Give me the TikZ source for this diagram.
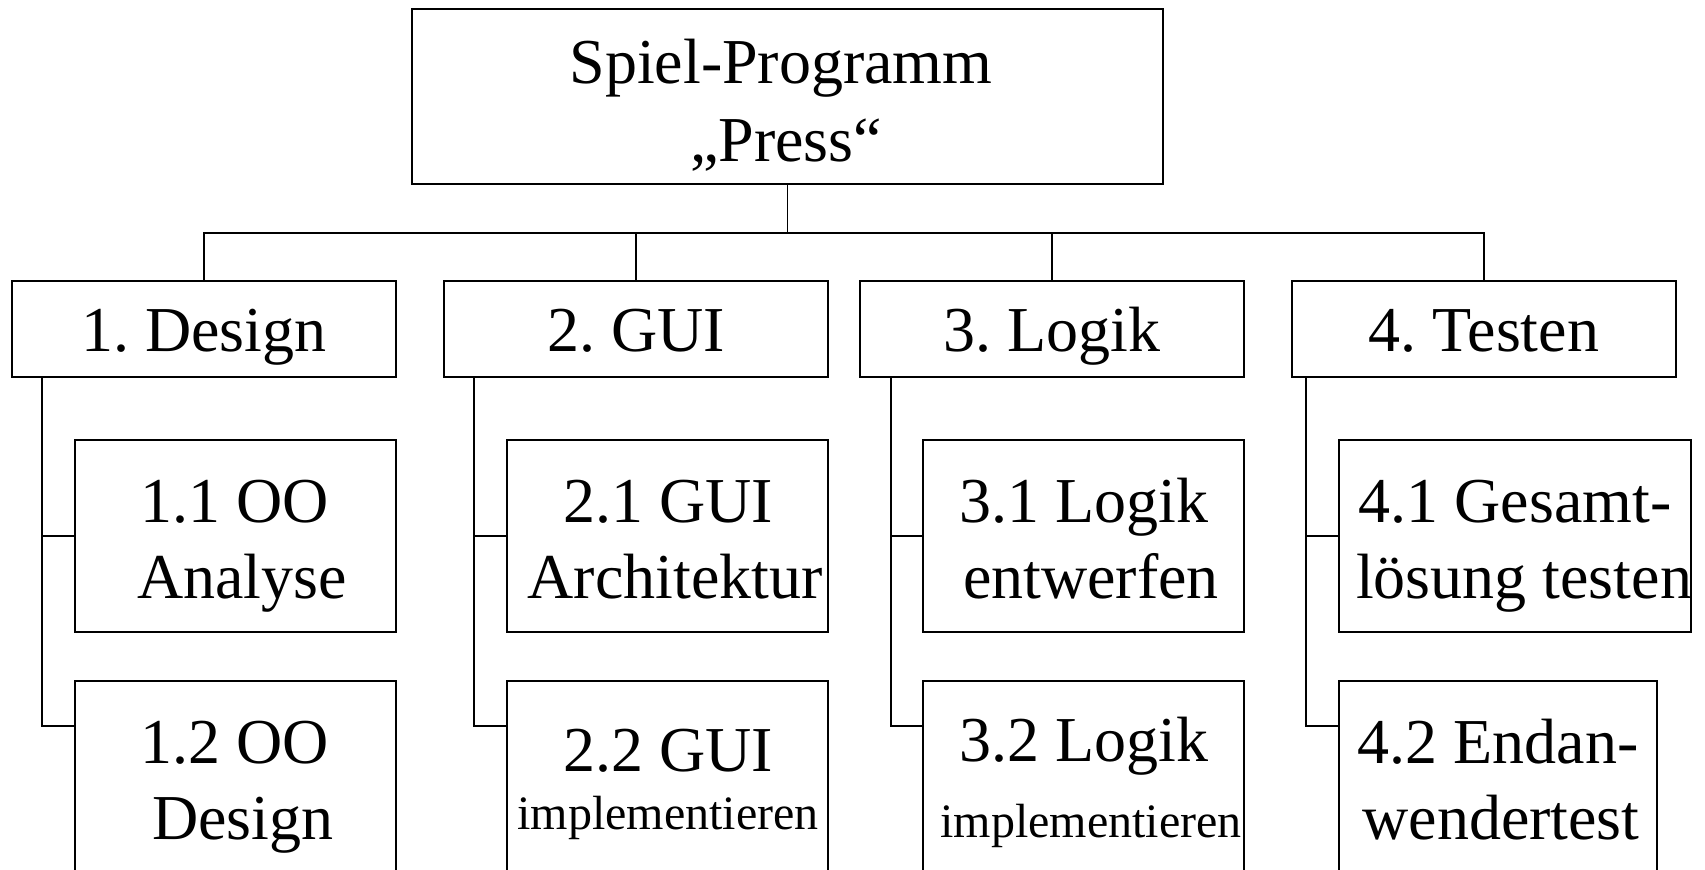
\documentclass[tikz,border=0pt]{standalone}
\usepackage{fontspec}
\setmainfont{Liberation Serif}
\frenchspacing
\tikzset{
  box/.style={draw, line width=1pt, inner sep=0pt, fill=white},
  conn/.style={draw, line width=0.8pt},
  txt/.style={inner sep=0pt, anchor=base, font=\fontsize{32}{38}\selectfont},
  small/.style={inner sep=0pt, anchor=base, font=\fontsize{24}{28}\selectfont},
}
% place a box by its centre (cx,cy) and size (w,h), all in pixel units (1px = 0.5pt)
\newcommand\wbsbox[5]{\node[box, minimum width=#4*0.5pt, minimum height=#5*0.5pt] (#1) at (#2,#3) {};}
\begin{document}
\begin{tikzpicture}[x=0.5pt, y=-0.5pt]
\useasboundingbox (0,0) rectangle (1705,870);
\clip (0,0) rectangle (1705,870);

% root
\wbsbox{root}{787.5}{96.5}{751}{175}
\node[txt] (rootA) at (781,84) {Spiel-Programm};
\node[txt] (rootB) at (786,162) {„Press“};

% work packages
\wbsbox{d1}{204}{329}{384}{96}
\wbsbox{d2}{636}{329}{384}{96}
\wbsbox{d3}{1052}{329}{384}{96}
\wbsbox{d4}{1484}{329}{384}{96}
\node[txt] (d1t) at (204,352) {1. Design};
\node[txt] (d2t) at (636,352) {2. GUI};
\node[txt] (d3t) at (1052,352) {3. Logik};
\node[txt] (d4t) at (1484,352) {4. Testen};

% sub packages
\wbsbox{s11}{235.5}{536}{321}{192}
\wbsbox{s12}{235.5}{777}{321}{192}
\wbsbox{s21}{667.5}{536}{321}{192}
\wbsbox{s22}{667.5}{777}{321}{192}
\wbsbox{s31}{1083.5}{536}{321}{192}
\wbsbox{s32}{1083.5}{777}{321}{192}
\wbsbox{s41}{1515}{536}{352}{192}
\wbsbox{s42}{1498}{777}{318}{192}

\node[txt] (s11a) at (235,523) {1.1 OO};
\node[txt] (s11b) at (242,599) {Analyse};
\node[txt] (s12a) at (235,764) {1.2 OO};
\node[txt] (s12b) at (243,840) {Design};
\node[txt] (s21a) at (668,523) {2.1 GUI};
\node[txt] (s21b) at (675,599) {Architektur};
\node[txt] (s22a) at (668,772) {2.2 GUI};
\node[small] (s22b) at (668,830) {implementieren};
\node[txt] (s31a) at (1084,523) {3.1 Logik};
\node[txt] (s31b) at (1091,599) {entwerfen};
\node[txt] (s32a) at (1084,762) {3.2 Logik};
\node[small] (s32b) at (1091,838) {implementieren};
\node[txt] (s41a) at (1515,523) {4.1 Gesamt-};
\node[txt] (s41b) at (1524,599) {lösung testen};
\node[txt] (s42a) at (1498,764) {4.2 Endan-};
\node[txt] (s42b) at (1501,840) {wendertest};

% top level connectors
\coordinate (bus) at (0,233);
\draw[conn] (root.south) -- (root.south |- bus);
\draw[conn] (d1.north) -- (d1.north |- bus) -- (d4.north |- bus) -- (d4.north);
\draw[conn] (d2.north) -- (d2.north |- bus);
\draw[conn] (d3.north) -- (d3.north |- bus);

% sub level connectors
\coordinate (k1) at ([xshift=15.5pt]d1.south west);
\coordinate (k2) at ([xshift=15.5pt]d2.south west);
\coordinate (k3) at ([xshift=16pt]d3.south west);
\coordinate (k4) at ([xshift=7.5pt]d4.south west);
\foreach \k/\a/\b in {k1/s11/s12, k2/s21/s22, k3/s31/s32, k4/s41/s42}{
  \draw[conn] (\k) |- ([yshift=-23pt]\b.north west);
  \draw[conn] (\a.west) -- (\a.west -| \k);
}
\end{tikzpicture}
\end{document}
